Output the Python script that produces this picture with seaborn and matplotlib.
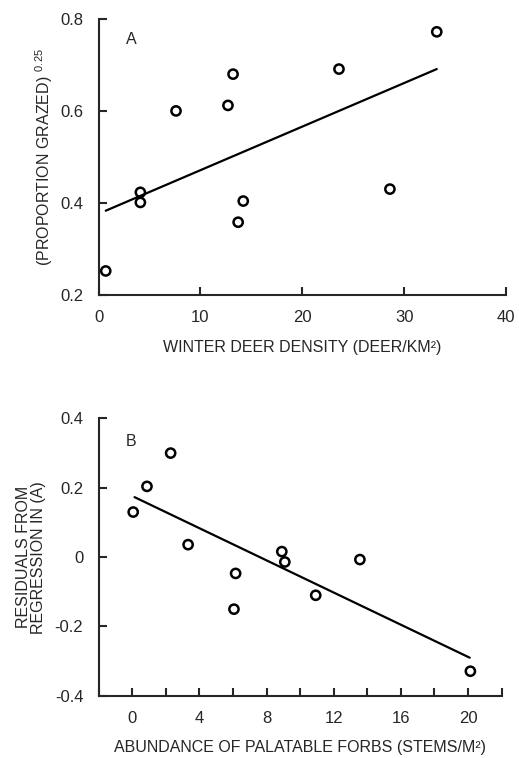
import pandas as pd
import seaborn as sns
import matplotlib.pyplot as plt

# Panel A: deer density vs transformed proportion grazed
deer_density = [0.7, 4.1, 4.1, 7.6, 12.7, 13.2, 13.7, 14.2, 23.6, 28.6, 33.2]
prop_grazed = [0.252, 0.423, 0.401, 0.600, 0.612, 0.680, 0.358, 0.404, 0.691, 0.430, 0.772]
fit_a_x = [0.7, 33.2]
fit_a_y = [0.383, 0.691]

# Panel B: palatable forbs vs residuals
forbs = [0.06, 0.88, 2.29, 3.33, 6.16, 6.06, 8.91, 9.09, 10.93, 13.56, 20.14]
residuals = [0.130, 0.204, 0.300, 0.036, -0.047, -0.150, 0.016, -0.014, -0.110, -0.007, -0.329]
fit_b_x = [0.14, 20.1]
fit_b_y = [0.173, -0.290]

sns.set_style("ticks")
plt.rcParams['font.family'] = ['Liberation Sans', 'DejaVu Sans']
plt.rcParams['mathtext.fontset'] = 'custom'
plt.rcParams['mathtext.rm'] = 'Liberation Sans'
plt.rcParams['mathtext.it'] = 'Liberation Sans'

df_a = pd.DataFrame({'x': deer_density, 'y': prop_grazed})
df_b = pd.DataFrame({'x': forbs, 'y': residuals})

fig = plt.figure(figsize=(5.19, 7.58), dpi=100)
ax_a = fig.add_axes([0.190, 0.611, 0.785, 0.364])
ax_b = fig.add_axes([0.190, 0.082, 0.7765, 0.366])

pt_kw = dict(marker='o', s=44, facecolors='none', edgecolor='black', linewidth=1.8)

sns.scatterplot(data=df_a, x='x', y='y', ax=ax_a, **pt_kw)
sns.lineplot(x=fit_a_x, y=fit_a_y, ax=ax_a, color='black', linewidth=1.6)
sns.scatterplot(data=df_b, x='x', y='y', ax=ax_b, **pt_kw)
sns.lineplot(x=fit_b_x, y=fit_b_y, ax=ax_b, color='black', linewidth=1.6)

ax_a.set_xlim(0, 40)
ax_a.set_ylim(0.2, 0.8)
ax_a.set_xticks([0, 10, 20, 30, 40])
ax_a.set_yticks([0.2, 0.4, 0.6, 0.8])
ax_a.set_xlabel('WINTER DEER DENSITY (DEER/KM²)', fontsize=11.5, labelpad=11)
ax_a.set_ylabel('(PROPORTION GRAZED)$^{\\;\\;0.25}$', fontsize=11.5, labelpad=4)
ax_a.text(0.068, 0.91, 'A', transform=ax_a.transAxes, fontsize=11.5)

ax_b.set_xlim(-2, 22)
ax_b.set_ylim(-0.4, 0.4)
ax_b.set_xticks([0, 4, 8, 12, 16, 20])
ax_b.set_xticks([-2, 2, 6, 10, 14, 18, 22], minor=True)
ax_b.set_yticks([-0.4, -0.2, 0, 0.2, 0.4])
ax_b.set_yticklabels(['-0.4', '-0.2', '0', '0.2', '0.4'])
ax_b.set_xlabel('ABUNDANCE OF PALATABLE FORBS (STEMS/M²)', fontsize=11.5, labelpad=10)
ax_b.set_ylabel('RESIDUALS FROM\nREGRESSION IN (A)', fontsize=11.5, labelpad=6, linespacing=1.05)
ax_b.text(0.068, 0.9, 'B', transform=ax_b.transAxes, fontsize=11.5)

for ax in (ax_a, ax_b):
    sns.despine(ax=ax)
    ax.spines['left'].set_linewidth(1.5)
    ax.spines['bottom'].set_linewidth(1.5)
    ax.tick_params(which='both', direction='in', length=6, width=1.5, pad=11, labelsize=12)

fig.savefig('out.png', dpi=100)
